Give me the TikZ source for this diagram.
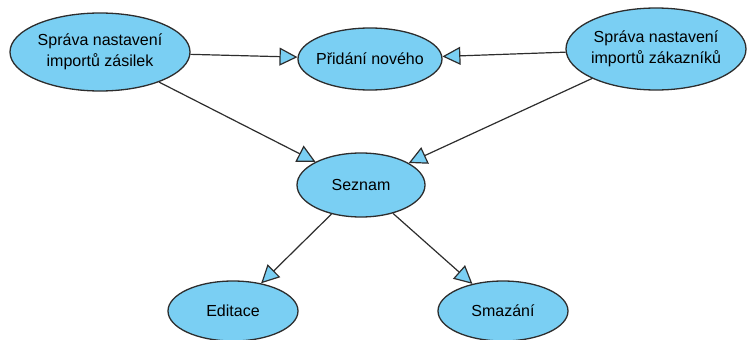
\documentclass[tikz,border=0pt]{standalone}
\usepackage{fontspec}
\setmainfont{Liberation Sans}
\usetikzlibrary{shapes.geometric,arrows.meta}
\definecolor{nodeblue}{RGB}{122,207,243}
\definecolor{edgegray}{RGB}{45,45,45}
\begin{document}
\begin{tikzpicture}[x=1pt,y=-1pt,
  uc/.style={ellipse, draw=edgegray, line width=1.3pt, fill=nodeblue,
    inner sep=-40pt, font=\fontsize{16}{21}\selectfont, align=center},
  conn/.style={draw=edgegray, line width=1.2pt,
    -{Triangle[length=18pt,width=18pt,fill=nodeblue]}},
]
\useasboundingbox (0,0) rectangle (747,340);
\node[uc, minimum width=180pt, minimum height=78pt] (A) at (100,52) {Správa nastavení\\importů zásilek};
\node[uc, minimum width=144pt, minimum height=62pt] (B) at (370,59) {Přidání nového};
\node[uc, minimum width=180pt, minimum height=82pt] (C) at (656,49) {Správa nastavení\\importů zákazníků};
\node[uc, minimum width=128pt, minimum height=64pt] (S) at (361,185) {Seznam};
\node[uc, minimum width=130pt, minimum height=60pt] (E) at (233,311) {Editace};
\node[uc, minimum width=130pt, minimum height=60pt] (D) at (503,311) {Smazání};
\draw[conn] (A) -- (B);
\draw[conn] (C) -- (B);
\draw[conn] (A) -- (S);
\draw[conn] (C) -- (S);
\draw[conn] (S) -- (E);
\draw[conn] (S) -- (D);
\end{tikzpicture}
\end{document}
